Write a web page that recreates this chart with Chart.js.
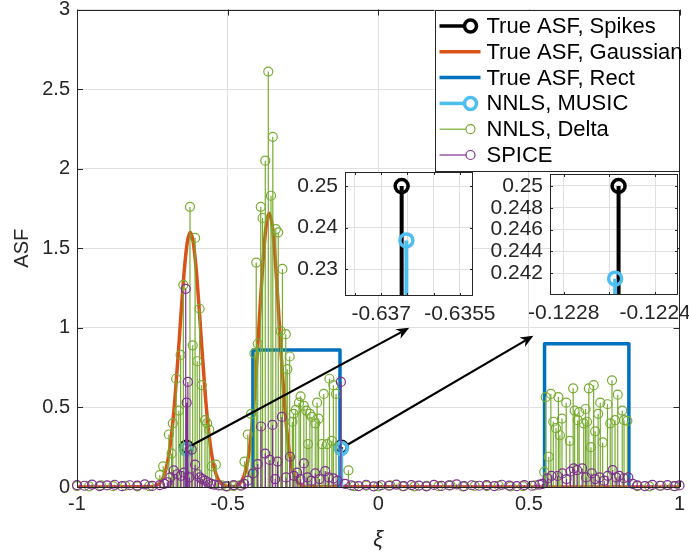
<!DOCTYPE html>
<html>
<head>
<meta charset="utf-8">
<script src="https://cdn.jsdelivr.net/npm/chart.js@4.4.1/dist/chart.umd.min.js"></script>
<style>
  html, body { margin: 0; padding: 0; background: #ffffff; }
  #wrap { position: relative; width: 689px; height: 558px; overflow: hidden; }
  #wrap canvas { position: absolute; }
</style>
</head>
<body>
<div id="wrap">
  <canvas id="main" width="689" height="558" style="left:0;top:0"></canvas>
  <canvas id="zoomA" width="230" height="175" style="left:275px;top:160px"></canvas>
  <canvas id="zoomB" width="209" height="175" style="left:480px;top:160px"></canvas>
</div>
<script>
// axis ticks
const xTicks = [-1, -0.5, 0, 0.5, 1];
const yTicks = [0, 0.5, 1, 1.5, 2, 2.5, 3];

// true spikes and the MUSIC estimates
const spikeX = [-0.63661, -0.12256];
const spikeY = [0.25, 0.25];
const musicX = [-0.63652, -0.122575];
const musicY = [0.2369, 0.2415];

// gaussian profile (two bumps)
const gaussX = [-1,
  -0.754, -0.744, -0.734, -0.724, -0.714, -0.704, -0.694, -0.684, -0.674, -0.664, -0.654, -0.644, -0.634, -0.624,
  -0.614, -0.604, -0.594, -0.584, -0.574, -0.564, -0.554, -0.544, -0.534, -0.524, -0.514, -0.504, -0.494,
  -0.482, -0.472, -0.462, -0.452, -0.442, -0.432, -0.422, -0.412, -0.402, -0.392, -0.382, -0.372, -0.362,
  -0.352, -0.342, -0.332, -0.322, -0.312, -0.302, -0.292, -0.282, -0.272, -0.262, -0.252, -0.242,
  1];
const gaussY = [0,
  0.002, 0.005, 0.012, 0.027, 0.059, 0.117, 0.217, 0.368, 0.577, 0.833, 1.108, 1.359, 1.536, 1.6,
  1.536, 1.359, 1.108, 0.833, 0.577, 0.368, 0.217, 0.117, 0.059, 0.027, 0.012, 0.005, 0.002,
  0.002, 0.007, 0.017, 0.042, 0.091, 0.181, 0.329, 0.546, 0.825, 1.138, 1.431, 1.643, 1.72,
  1.643, 1.431, 1.138, 0.825, 0.546, 0.329, 0.181, 0.091, 0.042, 0.017, 0.007, 0.002,
  0];

// rectangular profile (null breaks the line between the two boxes)
const rectX = [-0.416, -0.416, -0.127, -0.127, 0.2, 0.552, 0.552, 0.832, 0.832];
const rectY = [0, 0.86, 0.86, 0, null, 0, 0.9, 0.9, 0];

// NNLS on the delta grid
const deltaX = [
  -1, -0.96, -0.92, -0.88, -0.84, -0.8, -0.76,
  -0.725, -0.714, -0.695, -0.686, -0.682, -0.671, -0.662, -0.656, -0.647, -0.625,
  -0.616, -0.608, -0.601, -0.593, -0.586, -0.575, -0.568, -0.561, -0.553, -0.539,
  -0.52, -0.5, -0.48, -0.46,
  -0.444, -0.433, -0.422, -0.413, -0.411, -0.405, -0.4, -0.39, -0.384, -0.375,
  -0.365, -0.356, -0.35, -0.34, -0.332, -0.324, -0.318, -0.307, -0.302, -0.294,
  -0.285, -0.281, -0.274, -0.263, -0.258, -0.247, -0.239, -0.233, -0.227, -0.22,
  -0.209, -0.203, -0.198, -0.187, -0.181, -0.17, -0.162, -0.154, -0.149, -0.14,
  -0.099,
  -0.08, -0.04, 0, 0.04, 0.08, 0.12, 0.16, 0.2, 0.24, 0.28, 0.32, 0.36, 0.4, 0.44, 0.48, 0.52,
  0.551, 0.556, 0.566, 0.573, 0.581, 0.59, 0.598, 0.603, 0.61, 0.624,
  0.636, 0.647, 0.652, 0.662, 0.667, 0.682, 0.688, 0.693, 0.699, 0.706,
  0.715, 0.72, 0.73, 0.737, 0.745, 0.761, 0.77, 0.776, 0.786, 0.795,
  0.81, 0.816, 0.827,
  0.86, 0.9, 0.94, 0.98
];
const deltaY = [
  0.006, 0.004, 0.01, 0.005, 0.008, 0.004, 0.006,
  0.075, 0.13, 0.33, 0.21, 0.4, 0.68, 0.48, 0.83, 1.27, 1.76,
  0.89, 1.565, 0.79, 1.12, 0.64, 0.42, 0.4, 0.36, 0.13, 0.14,
  0.01, 0.004, 0.006, 0.01,
  0.16, 0.33, 0.46, 0.09, 0.84, 1.41, 0.9, 1.76, 1.69, 2.05,
  2.61, 1.83, 2.2, 1.62, 1.6, 0.98, 1.37, 0.96, 0.74, 0.82,
  0.41, 0.46, 0.485, 0.53, 0.57, 0.51, 0.48, 0.27, 0.46, 0.44,
  0.4, 0.53, 0.43, 0.27, 0.585, 0.27, 0.68, 0.29, 0.64, 0.585,
  0.105,
  0.005, 0.008, 0.004, 0.01, 0.006, 0.004, 0.008, 0.005, 0.01, 0.004, 0.007, 0.005, 0.008, 0.004, 0.006, 0.01,
  0.095, 0.565, 0.19, 0.585, 0.41, 0.37, 0.565, 0.325, 0.43, 0.53,
  0.29, 0.62, 0.48, 0.42, 0.47, 0.4, 0.49, 0.41, 0.62, 0.25,
  0.64, 0.35, 0.46, 0.53, 0.28, 0.52, 0.4, 0.67, 0.42, 0.58,
  0.48, 0.42, 0.415,
  0.006, 0.004, 0.008, 0.005
];

// SPICE estimate
const spiceX = [
  -1, -0.975, -0.95, -0.925, -0.9, -0.875, -0.85, -0.825, -0.8, -0.775, -0.75, -0.725,
  -0.71, -0.7, -0.69, -0.679, -0.667, -0.655, -0.645, -0.639, -0.636, -0.632,
  -0.627, -0.619, -0.608, -0.6, -0.592, -0.584, -0.575, -0.565, -0.555, -0.545,
  -0.53, -0.505, -0.48, -0.455,
  -0.445, -0.433, -0.416, -0.4, -0.389, -0.375, -0.36, -0.351, -0.342, -0.334,
  -0.32, -0.306, -0.293, -0.28, -0.269, -0.258, -0.247, -0.235, -0.222, -0.209,
  -0.195, -0.176, -0.165, -0.149, -0.135, -0.124, -0.11,
  -0.09, -0.065, -0.04, -0.015, 0.01, 0.035, 0.06, 0.085, 0.11, 0.135, 0.16, 0.185, 0.21,
  0.235, 0.26, 0.285, 0.31, 0.335, 0.36, 0.385, 0.41, 0.435, 0.46, 0.485, 0.51, 0.535,
  0.545, 0.562, 0.575, 0.595, 0.611, 0.625, 0.638, 0.649, 0.66, 0.677,
  0.69, 0.709, 0.72, 0.735, 0.75, 0.762, 0.778, 0.79, 0.8, 0.815, 0.83, 0.845,
  0.86, 0.885, 0.91, 0.935, 0.96, 0.985, 1
];
const spiceY = [
  0.012, 0.008, 0.015, 0.006, 0.01, 0.014, 0.005, 0.011, 0.009, 0.016, 0.007, 0.012,
  0.02, 0.03, 0.06, 0.105, 0.08, 0.07, 0.09, 1.245, 0.53, 0.66,
  0.06, 0.235, 0.14, 0.08, 0.06, 0.05, 0.04, 0.03, 0.02, 0.015,
  0.01, 0.004, 0.012, 0.008,
  0.02, 0.04, 0.085, 0.144, 0.38, 0.21, 0.17, 0.39, 0.05, 0.16,
  0.44, 0.06, 0.19, 0.07, 0.09, 0.05, 0.148, 0.06, 0.04, 0.085,
  0.05, 0.1, 0.06, 0.054, 0.04, 0.66, 0.02,
  0.01, 0.006, 0.014, 0.004, 0.011, 0.008, 0.015, 0.005, 0.012, 0.009, 0.004, 0.013, 0.007,
  0.01, 0.016, 0.005, 0.011, 0.008, 0.012, 0.006, 0.014, 0.009, 0.005, 0.012, 0.008, 0.015,
  0.02, 0.054, 0.07, 0.069, 0.085, 0.05, 0.096, 0.117, 0.106, 0.117,
  0.06, 0.085, 0.05, 0.06, 0.04, 0.07, 0.106, 0.06, 0.07, 0.055, 0.06, 0.02,
  0.01, 0.006, 0.013, 0.008, 0.012, 0.005, 0.01
];

// arrows from the spikes to the zoomed panels (data coordinates)
const arrowX0 = [-0.619, -0.0995];
const arrowY0 = [0.2625, 0.269];
const arrowX1 = [0.103, 0.515];
const arrowY1 = [1.0, 0.95];

// zoom panel A
const zoomAXLim = [-0.63769, -0.63525];
const zoomAYLim = [0.2235, 0.2534];
const zoomAXTicks = [-0.6375, -0.637, -0.6365, -0.636, -0.6355];
const zoomAXLabels = [-0.637, -0.6355];
const zoomAYTicks = [0.23, 0.24, 0.25];

// zoom panel B
const zoomBXLim = [-0.12286, -0.1223];
const zoomBYLim = [0.24, 0.2511];
const zoomBXTicks = [-0.1228, -0.1226, -0.1224];
const zoomBXLabels = [-0.1228, -0.1224];
const zoomBYTicks = [0.242, 0.244, 0.246, 0.248, 0.25];

const fontFamily = "'Liberation Sans', Arial, Helvetica, sans-serif";
const axisColor = '#262626';
const gridColor = '#e0e0e0';
Chart.defaults.font.family = fontFamily;

const toPoints = (xs, ys) => xs.map((x, i) => ({ x: x, y: ys[i] }));

// stems: vertical line from each point down to y = 0, drawn under the markers
const stemPlugin = {
    id: 'stems',
    beforeDatasetDraw(chart, args) {
        const ds = chart.data.datasets[args.index];
        if (!ds.stemWidth) return;
        const { ctx, chartArea: a } = chart;
        const base = chart.scales.y.getPixelForValue(0);
        ctx.save();
        ctx.beginPath();
        ctx.rect(a.left, a.top, a.right - a.left, a.bottom - a.top);
        ctx.clip();
        ctx.strokeStyle = ds.borderColor;
        ctx.lineWidth = ds.stemWidth;
        ctx.beginPath();
        args.meta.data.forEach(pt => {
            ctx.moveTo(pt.x, pt.y);
            ctx.lineTo(pt.x, base);
        });
        ctx.stroke();
        ctx.restore();
    }
};

// axes box with inward tick marks (and optional white panel)
const framePlugin = {
    id: 'frame',
    beforeDraw(chart, args, opts) {
        if (!opts.fill) return;
        const { ctx, chartArea: a } = chart;
        ctx.save();
        ctx.fillStyle = opts.fill;
        ctx.fillRect(a.left, a.top, a.right - a.left, a.bottom - a.top);
        ctx.restore();
    },
    afterDatasetsDraw(chart, args, opts) {
        const { ctx, chartArea: a, scales: { x, y } } = chart;
        const len = opts.tick || 5;
        ctx.save();
        ctx.strokeStyle = axisColor;
        ctx.lineWidth = 1;
        ctx.beginPath();
        x.ticks.forEach(t => {
            const px = Math.round(x.getPixelForValue(t.value)) + 0.5;
            ctx.moveTo(px, a.bottom); ctx.lineTo(px, a.bottom - len);
            ctx.moveTo(px, a.top); ctx.lineTo(px, a.top + len);
        });
        y.ticks.forEach(t => {
            const py = Math.round(y.getPixelForValue(t.value)) + 0.5;
            ctx.moveTo(a.left, py); ctx.lineTo(a.left + len, py);
            ctx.moveTo(a.right, py); ctx.lineTo(a.right - len, py);
        });
        ctx.stroke();
        ctx.strokeRect(Math.round(a.left) + 0.5, Math.round(a.top) + 0.5,
            Math.round(a.right - a.left) - 1, Math.round(a.bottom - a.top) - 1);
        ctx.restore();
    }
};

const arrowPlugin = {
    id: 'arrows',
    afterDatasetsDraw(chart) {
        const { ctx, scales: { x, y } } = chart;
        ctx.save();
        ctx.strokeStyle = '#000000';
        ctx.fillStyle = '#000000';
        ctx.lineWidth = 2.2;
        arrowX0.forEach((v, i) => {
            const x0 = x.getPixelForValue(v), y0 = y.getPixelForValue(arrowY0[i]);
            const x1 = x.getPixelForValue(arrowX1[i]), y1 = y.getPixelForValue(arrowY1[i]);
            const ang = Math.atan2(y1 - y0, x1 - x0);
            const c = Math.cos(ang), s = Math.sin(ang);
            const len = 13, half = 5.5, notch = 9;
            ctx.beginPath();
            ctx.moveTo(x0, y0);
            ctx.lineTo(x1 - notch * c, y1 - notch * s);
            ctx.stroke();
            ctx.beginPath();
            ctx.moveTo(x1, y1);
            ctx.lineTo(x1 - len * c - half * s, y1 - len * s + half * c);
            ctx.lineTo(x1 - notch * c, y1 - notch * s);
            ctx.lineTo(x1 - len * c + half * s, y1 - len * s - half * c);
            ctx.closePath();
            ctx.fill();
        });
        ctx.restore();
    }
};

const legendPlugin = {
    id: 'boxLegend',
    afterDraw(chart) {
        const { ctx, chartArea: a } = chart;
        const w = 245, h = 161, row = 25.8;
        const left = a.right - w, top = a.top;
        ctx.save();
        ctx.fillStyle = '#ffffff';
        ctx.fillRect(left, top, w, h);
        ctx.strokeStyle = axisColor;
        ctx.lineWidth = 1;
        ctx.strokeRect(Math.round(left) + 0.5, Math.round(top) + 0.5, w - 1, h);
        ctx.font = '22px ' + fontFamily;
        ctx.textBaseline = 'middle';
        ctx.textAlign = 'left';
        chart.data.datasets.forEach((ds, i) => {
            const cy = top + 16.5 + i * row;
            const x0 = left + 5, x1 = left + 46, cx = left + 36;
            ctx.strokeStyle = ds.borderColor;
            ctx.beginPath();
            if (ds.stemWidth) {
                ctx.lineWidth = ds.stemWidth;
                ctx.moveTo(x0, cy);
                ctx.lineTo(cx - ds.pointRadius, cy);
                ctx.stroke();
                ctx.beginPath();
                ctx.lineWidth = ds.pointBorderWidth;
                ctx.arc(cx, cy, ds.pointRadius, 0, Math.PI * 2);
                ctx.stroke();
            } else {
                ctx.lineWidth = ds.borderWidth;
                ctx.moveTo(x0, cy);
                ctx.lineTo(x1, cy);
                ctx.stroke();
            }
            ctx.fillStyle = '#000000';
            ctx.fillText(ds.label, left + 52, cy + 1);
        });
        ctx.restore();
    }
};

const tickFont = { family: fontFamily, size: 20 };

new Chart(document.getElementById('main'), {
    type: 'scatter',
    data: {
        datasets: [{
            label: 'True ASF, Spikes',
            data: toPoints(spikeX, spikeY),
            borderColor: '#000000',
            backgroundColor: 'rgba(0,0,0,0)',
            pointRadius: 6,
            pointBorderWidth: 3.5,
            stemWidth: 3.5,
            clip: 10,
            order: 6
        }, {
            label: 'True ASF, Gaussian',
            data: toPoints(gaussX, gaussY),
            showLine: true,
            borderColor: '#D95319',
            backgroundColor: 'rgba(0,0,0,0)',
            borderWidth: 3.5,
            borderJoinStyle: 'round',
            borderCapStyle: 'round',
            cubicInterpolationMode: 'monotone',
            pointRadius: 0,
            order: 5
        }, {
            label: 'True ASF, Rect',
            data: toPoints(rectX, rectY),
            showLine: true,
            spanGaps: false,
            borderColor: '#0072BD',
            backgroundColor: 'rgba(0,0,0,0)',
            borderWidth: 3.5,
            borderJoinStyle: 'round',
            borderCapStyle: 'round',
            pointRadius: 0,
            order: 4
        }, {
            label: 'NNLS, MUSIC',
            data: toPoints(musicX, musicY),
            borderColor: '#4DBEEE',
            backgroundColor: 'rgba(0,0,0,0)',
            pointRadius: 6,
            pointBorderWidth: 3.5,
            stemWidth: 3.5,
            clip: 10,
            order: 3
        }, {
            label: 'NNLS, Delta',
            data: toPoints(deltaX, deltaY),
            borderColor: '#77AC30',
            backgroundColor: 'rgba(0,0,0,0)',
            pointRadius: 4.5,
            pointBorderWidth: 1.2,
            stemWidth: 1.2,
            clip: 10,
            order: 2
        }, {
            label: 'SPICE',
            data: toPoints(spiceX, spiceY),
            borderColor: '#7E2F8E',
            backgroundColor: 'rgba(0,0,0,0)',
            pointRadius: 4.5,
            pointBorderWidth: 1.2,
            stemWidth: 1.2,
            clip: 10,
            order: 1
        }]
    },
    options: {
        responsive: false,
        devicePixelRatio: 1,
        animation: false,
        events: [],
        layout: { padding: { top: 7, right: 2, left: 0, bottom: 0 } },
        plugins: {
            legend: { display: false },
            tooltip: { enabled: false },
            frame: { tick: 6 }
        },
        scales: {
            x: {
                type: 'linear',
                min: -1,
                max: 1,
                afterBuildTicks: s => { s.ticks = xTicks.map(v => ({ value: v })); },
                afterFit: s => { s.height = 71; s.paddingLeft = 0; s.paddingRight = 0; },
                grid: { color: gridColor, drawTicks: false },
                border: { display: false },
                ticks: { color: axisColor, font: tickFont, padding: 5, maxRotation: 0, autoSkip: false, callback: v => String(v) },
                title: { display: true, text: 'ξ', color: axisColor, font: { family: fontFamily, size: 22, style: 'italic' }, padding: { top: 0, bottom: 5 } }
            },
            y: {
                type: 'linear',
                min: 0,
                max: 3,
                afterBuildTicks: s => { s.ticks = yTicks.map(v => ({ value: v })); },
                afterFit: s => { s.width = 77; s.paddingTop = 0; s.paddingBottom = 0; },
                grid: { color: gridColor, drawTicks: false },
                border: { display: false },
                ticks: { color: axisColor, font: tickFont, padding: 7, autoSkip: false, callback: v => String(v) },
                title: { display: true, text: 'ASF', color: axisColor, font: { family: fontFamily, size: 20 }, padding: { top: 10, bottom: 0 } }
            }
        }
    },
    plugins: [stemPlugin, framePlugin, arrowPlugin, legendPlugin]
});

// small zoomed-in panels around each spike
function zoomPanel(id, xLim, yLim, xTickVals, xTickText, yTickVals, pad, xAxisHeight) {
    return new Chart(document.getElementById(id), {
        type: 'scatter',
        data: {
            datasets: [{
                data: toPoints(spikeX, spikeY),
                borderColor: '#000000',
                backgroundColor: 'rgba(0,0,0,0)',
                pointRadius: 6.5,
                pointBorderWidth: 3.5,
                stemWidth: 4,
                order: 2
            }, {
                data: toPoints(musicX, musicY),
                borderColor: '#4DBEEE',
                backgroundColor: 'rgba(0,0,0,0)',
                pointRadius: 6.5,
                pointBorderWidth: 3.5,
                stemWidth: 4,
                order: 1
            }]
        },
        options: {
            responsive: false,
            devicePixelRatio: 1,
            animation: false,
            events: [],
            layout: { padding: pad },
            plugins: {
                legend: { display: false },
                tooltip: { enabled: false },
                frame: { tick: 3, fill: '#ffffff' }
            },
            scales: {
                x: {
                    type: 'linear',
                    min: xLim[0],
                    max: xLim[1],
                    afterBuildTicks: s => { s.ticks = xTickVals.map(v => ({ value: v })); },
                    afterFit: s => { s.height = xAxisHeight; s.paddingLeft = 0; s.paddingRight = 0; },
                    grid: { color: gridColor, drawTicks: false },
                    border: { display: false },
                    ticks: { color: axisColor, font: { family: fontFamily, size: 21 }, padding: 6, maxRotation: 0, autoSkip: false,
                             callback: v => xTickText.includes(v) ? String(v) : '' }
                },
                y: {
                    type: 'linear',
                    min: yLim[0],
                    max: yLim[1],
                    afterBuildTicks: s => { s.ticks = yTickVals.map(v => ({ value: v })); },
                    afterFit: s => { s.width = 70; s.paddingTop = 0; s.paddingBottom = 0; },
                    grid: { color: gridColor, drawTicks: false },
                    border: { display: false },
                    ticks: { color: axisColor, font: { family: fontFamily, size: 21 }, padding: 7, autoSkip: false, callback: v => String(v) }
                }
            }
        },
        plugins: [framePlugin, stemPlugin]
    });
}

zoomPanel('zoomA', zoomAXLim, zoomAYLim, zoomAXTicks, zoomAXLabels, zoomAYTicks,
    { top: 12, right: 32, left: 0, bottom: 0 }, 39);
zoomPanel('zoomB', zoomBXLim, zoomBYLim, zoomBXTicks, zoomBXLabels, zoomBYTicks,
    { top: 14, right: 11, left: 0, bottom: 0 }, 40);
</script>
</body>
</html>
